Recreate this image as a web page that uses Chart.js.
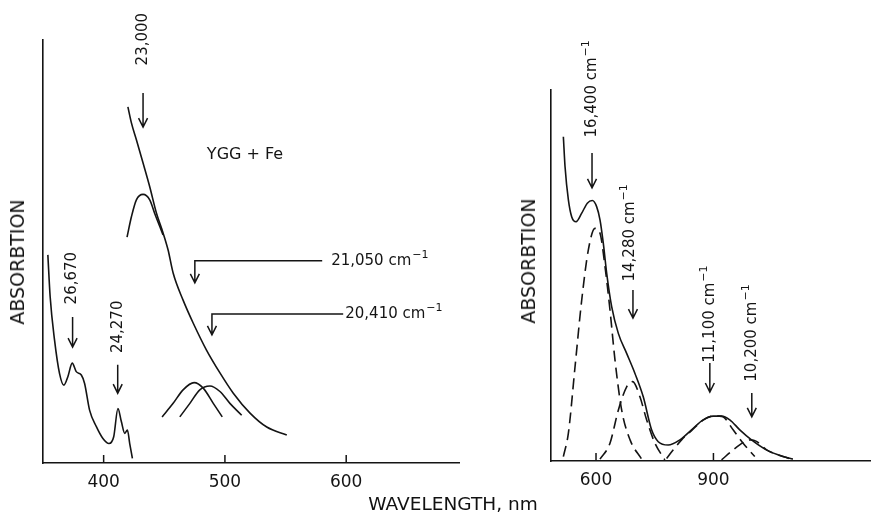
<!DOCTYPE html>
<html>
<head>
<meta charset="utf-8">
<script src="https://cdn.jsdelivr.net/npm/chart.js@4.4.0/dist/chart.umd.min.js"></script>
<style>
  html, body { margin: 0; padding: 0; background: #fff; }
  #wrap { position: relative; width: 872px; height: 518px; font-family: "DejaVu Sans", sans-serif; color: #111; }
  canvas { position: absolute; left: 0; top: 0; }
  .ytitle { position: absolute; font-size: 19px; white-space: nowrap; transform: translate(-50%, -50%) rotate(-90deg); }
  #xtitle { position: absolute; left: 453px; top: 503px; font-size: 18.5px; white-space: nowrap; transform: translate(-50%, -50%); }
</style>
</head>
<body>
<div id="wrap">
  <canvas id="leftChart" width="872" height="518"></canvas>
  <canvas id="rightChart" width="872" height="518"></canvas>
  <div class="ytitle" style="left:17px; top:262px;">ABSORBTION</div>
  <div class="ytitle" style="left:528px; top:261px;">ABSORBTION</div>
  <div id="xtitle">WAVELENGTH, nm</div>
</div>
<script>
// ---- left panel: YGG + Fe (wavelength nm / absorption, arbitrary units) ----
const leftTicks = [400, 500, 600];

const uvX = [354, 355.9, 359.5, 363.6, 367.2, 370.5, 374.1, 377.4, 381.6, 384.3, 388.4, 394, 399.4, 404.4, 408.3, 411.8, 414.6, 417.4, 419.6, 421.5, 423.7];
const uvY = [49.2, 39.3, 29.1, 21.2, 18.4, 20.4, 23.6, 21.6, 20.8, 18.8, 12.5, 8.6, 5.8, 4.6, 6.2, 12.9, 9.8, 7.0, 7.8, 4.6, 1.1];

const edgeX = [420, 422.9, 427, 432.5, 438, 443.5, 449, 453.1, 457.3, 465.5, 473.8, 484.8, 495.9, 506.9, 520.7, 534.5, 551];
const edgeY = [84.2, 80.4, 76.4, 70.9, 65.3, 59.1, 54.4, 50.4, 44.9, 38.5, 33.1, 26.7, 21.3, 16.5, 11.8, 8.5, 6.6];

const band23000X = [419.3, 422.9, 427, 432.5, 438, 442.1, 446.3, 449];
const band23000Y = [53.4, 58.2, 62.2, 63.5, 62.2, 59.0, 55.9, 53.9];

const band21050X = [448.2, 457.3, 465.5, 474.6, 482.1, 490.4, 497.8];
const band21050Y = [10.9, 14.1, 17.3, 19.0, 17.7, 14.1, 10.9];

const band20410X = [462.8, 471.1, 479.3, 487.6, 495.9, 504.1, 513.8];
const band20410Y = [10.9, 14.1, 17.3, 18.2, 16.9, 14.1, 11.3];

// ---- right panel ----
const rightTicks = [600, 900];

const totalX = [516.6, 520.9, 529.4, 538, 549, 563.5, 577.8, 590.6, 601.8, 610.2, 618.6, 627.3, 640, 657, 678.3, 699.5, 720.7, 742, 759, 784.4, 814.3, 844, 873.7, 899.2, 920.7, 941.8, 967.3, 997.2, 1035.5, 1077.8, 1103];
const totalY = [87.4, 79.3, 70.4, 65.8, 64.5, 66.8, 69.5, 70.2, 68.5, 65, 58.7, 50.6, 41.6, 34.4, 29.0, 23.6, 17.3, 8.4, 5.2, 4.3, 5.7, 8.4, 11.1, 12.1, 12.1, 11.1, 8.4, 5.7, 3.0, 1.2, 0.5];

const g16400X = [516.6, 529.4, 546.4, 563.5, 580.4, 597.4, 610.2, 623, 635.7, 648.5, 665.6, 687, 716.6];
const g16400Y = [1.2, 7.5, 25.4, 43.4, 56.9, 62.7, 61.4, 52.4, 40.7, 27.2, 13.7, 5.7, 0.5];

const g14280X = [610.2, 635.7, 657, 678.3, 693.6, 712.2, 729.3, 750.5, 776];
const g14280Y = [0.5, 4.8, 13.7, 20, 21.4, 17.3, 11.1, 4.8, 0.3];

const g11100X = [780.4, 797.4, 818.6, 844, 873.7, 899.2, 915, 924.9, 950.3, 975.8, 1005.6];
const g11100Y = [0.7, 3, 5.7, 8.2, 11.0, 12.1, 12.1, 11.9, 8.4, 4.8, 1.2];

const g10200X = [920.7, 950.3, 980, 995, 1010, 1035.5, 1077.8, 1103];
const g10200Y = [0.3, 3, 5.2, 5.7, 5.3, 3.0, 1.2, 0.4];

const INK = '#141414';
const FONT = '"DejaVu Sans", sans-serif';

function pts(xs, ys) {
    return xs.map((x, i) => ({ x: x, y: ys[i] }));
}

function line(xs, ys, dashed) {
    return {
        data: pts(xs, ys),
        borderColor: INK,
        borderWidth: 1.6,
        borderDash: dashed ? [11, 6] : [],
        pointRadius: 0,
        showLine: true,
        fill: false,
        cubicInterpolationMode: 'monotone'
    };
}

function drawRich(ctx, main, sup, x, y, align, size) {
    const mainFont = size + 'px ' + FONT;
    const supFont = Math.round(size * 0.72) + 'px ' + FONT;
    ctx.font = mainFont;
    const w1 = ctx.measureText(main).width;
    ctx.font = supFont;
    const w2 = sup ? ctx.measureText(sup).width + 1 : 0;
    const x0 = align === 'center' ? x - (w1 + w2) / 2 : x;
    ctx.textAlign = 'left';
    ctx.textBaseline = 'middle';
    ctx.font = mainFont;
    ctx.fillText(main, x0, y);
    if (sup) {
        ctx.font = supFont;
        ctx.fillText(sup, x0 + w1 + 1, y - size * 0.4);
    }
}

// arrows, labels and inner tick marks
const notesPlugin = {
    id: 'notes',
    afterDraw(chart, args, opts) {
        const ctx = chart.ctx;
        const xs = chart.scales.x, ys = chart.scales.y;
        const area = chart.chartArea;
        ctx.save();
        ctx.strokeStyle = INK;
        ctx.fillStyle = INK;
        ctx.lineWidth = 1.5;

        xs.ticks.forEach(t => {
            const px = xs.getPixelForValue(t.value);
            ctx.beginPath();
            ctx.moveTo(px, area.bottom);
            ctx.lineTo(px, area.bottom - 8);
            ctx.stroke();
        });

        (opts.arrows || []).forEach(a => {
            const px = xs.getPixelForValue(a.x);
            const y0 = ys.getPixelForValue(a.from);
            const y1 = ys.getPixelForValue(a.to);
            ctx.beginPath();
            if (a.tail) {
                ctx.moveTo(xs.getPixelForValue(a.tail), y0);
                ctx.lineTo(px, y0);
            } else {
                ctx.moveTo(px, y0);
            }
            ctx.lineTo(px, y1);
            ctx.moveTo(px - 4.5, y1 - 9);
            ctx.lineTo(px, y1);
            ctx.lineTo(px + 4.5, y1 - 9);
            ctx.stroke();
        });

        (opts.labels || []).forEach(l => {
            const px = xs.getPixelForValue(l.x);
            const py = ys.getPixelForValue(l.y);
            const size = l.size || 15;
            if (l.rot) {
                ctx.save();
                ctx.translate(px, py);
                ctx.rotate(-Math.PI / 2);
                drawRich(ctx, l.text, l.sup, 0, 0, 'center', size);
                ctx.restore();
            } else {
                drawRich(ctx, l.text, l.sup, px, py, 'left', size);
            }
        });
        ctx.restore();
    }
};

function makeChart(id, datasets, xMin, xMax, ticks, padding, notes) {
    const ctx = document.getElementById(id).getContext('2d');
    return new Chart(ctx, {
        type: 'scatter',
        data: { datasets: datasets },
        options: {
            responsive: false,
            animation: false,
            events: [],
            layout: { padding: padding },
            plugins: {
                legend: { display: false },
                tooltip: { enabled: false },
                notes: notes
            },
            scales: {
                x: {
                    type: 'linear',
                    min: xMin,
                    max: xMax,
                    afterFit: s => { s.height = 30; },
                    afterBuildTicks: s => { s.ticks = ticks.map(v => ({ value: v })); },
                    grid: { display: false },
                    border: { display: true, color: INK, width: 1.6 },
                    ticks: {
                        color: INK,
                        padding: 1,
                        font: { family: 'DejaVu Sans', size: 17 },
                        maxRotation: 0
                    }
                },
                y: {
                    min: 0,
                    max: 100,
                    afterFit: s => { s.width = 0; },
                    grid: { display: false },
                    border: { display: true, color: INK, width: 1.6 },
                    ticks: { display: false }
                }
            }
        },
        plugins: [notesPlugin]
    });
}

makeChart('leftChart', [
    line(uvX, uvY),
    line(edgeX, edgeY),
    line(band23000X, band23000Y),
    line(band21050X, band21050Y),
    line(band20410X, band20410Y)
], 350, 693, leftTicks, { left: 43, right: 413, top: 40, bottom: 25 }, {
    arrows: [
        { x: 432.5, from: 87.5, to: 79.4 },
        { x: 374.4, from: 34.5, to: 27.4 },
        { x: 411.6, from: 23.2, to: 16.5 },
        { x: 475.2, from: 47.8, to: 42.6, tail: 580.2 },
        { x: 489.3, from: 35.2, to: 30.3, tail: 597.5 }
    ],
    labels: [
        { text: '23,000', x: 432.5, y: 100.2, rot: true },
        { text: '26,670', x: 374.4, y: 43.7, rot: true },
        { text: '24,270', x: 411.6, y: 32.2, rot: true },
        { text: 'YGG + Fe', x: 485.1, y: 72.8, size: 16 },
        { text: '21,050 cm', sup: '\u22121', x: 587.6, y: 47.8 },
        { text: '20,410 cm', sup: '\u22121', x: 599.2, y: 35.2 }
    ]
});

makeChart('rightChart', [
    line(totalX, totalY),
    line(g16400X, g16400Y, true),
    line(g14280X, g14280Y, true),
    line(g11100X, g11100Y, true),
    line(g10200X, g10200Y, true)
], 485, 1300, rightTicks, { left: 551, right: 2, top: 90, bottom: 27 }, {
    arrows: [
        { x: 589.8, from: 83, to: 73.6 },
        { x: 694.4, from: 46.1, to: 38.5 },
        { x: 890.8, from: 26.4, to: 18.6 },
        { x: 998, from: 18.3, to: 11.9 }
    ],
    labels: [
        { text: '16,400 cm', sup: '\u22121', x: 589.8, y: 100.3, rot: true },
        { text: '14,280 cm', sup: '\u22121', x: 686.7, y: 61.5, rot: true },
        { text: '11,100 cm', sup: '\u22121', x: 890.8, y: 39.6, rot: true },
        { text: '10,200 cm', sup: '\u22121', x: 998, y: 34.5, rot: true }
    ]
});
</script>
</body>
</html>
